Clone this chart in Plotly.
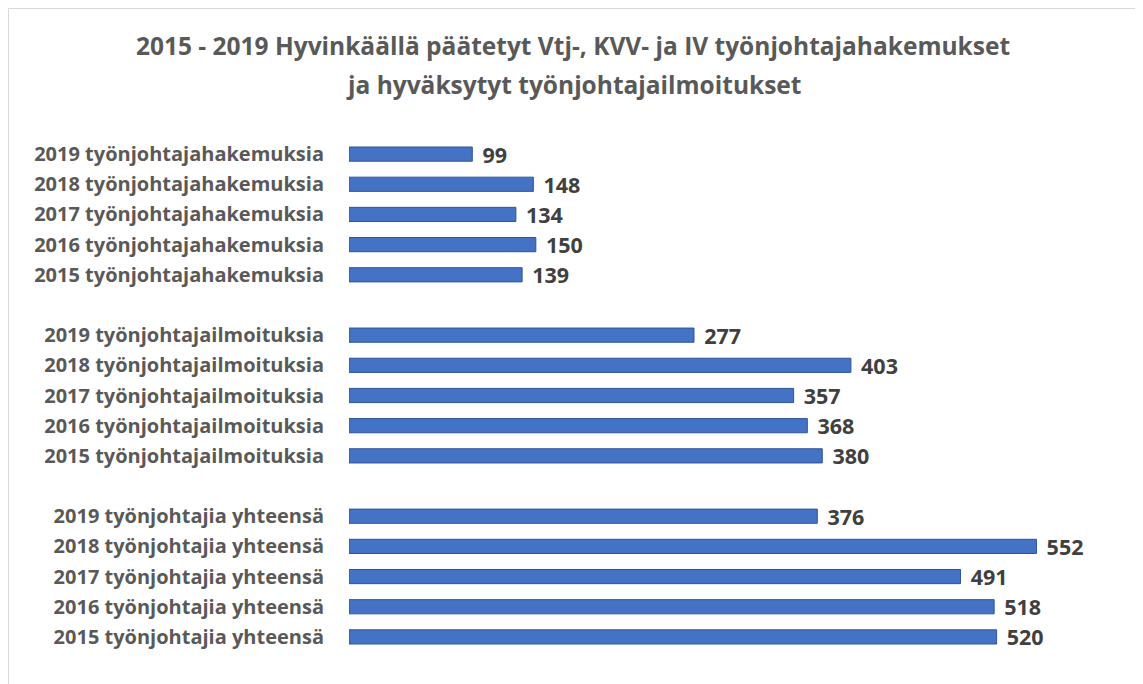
import plotly.graph_objects as go

# data, top to bottom as in the chart
hakemukset_labels = ["2019 työnjohtajahakemuksia", "2018 työnjohtajahakemuksia",
                     "2017 työnjohtajahakemuksia", "2016 työnjohtajahakemuksia",
                     "2015 työnjohtajahakemuksia"]
hakemukset_values = [99, 148, 134, 150, 139]

ilmoitukset_labels = ["2019 työnjohtajailmoituksia", "2018 työnjohtajailmoituksia",
                      "2017 työnjohtajailmoituksia", "2016 työnjohtajailmoituksia",
                      "2015 työnjohtajailmoituksia"]
ilmoitukset_values = [277, 403, 357, 368, 380]

yhteensa_labels = ["2019 työnjohtajia yhteensä", "2018 työnjohtajia yhteensä",
                   "2017 työnjohtajia yhteensä", "2016 työnjohtajia yhteensä",
                   "2015 työnjohtajia yhteensä"]
yhteensa_values = [376, 552, 491, 518, 520]

# empty rows between the groups
categories = hakemukset_labels + [" "] + ilmoitukset_labels + ["  "] + yhteensa_labels
values = hakemukset_values + [None] + ilmoitukset_values + [None] + yhteensa_values

title_line1 = "2015 - 2019 Hyvinkäällä päätetyt Vtj-, KVV- ja IV työnjohtajahakemukset"
title_line2 = "ja hyväksytyt työnjohtajailmoitukset"

fig = go.Figure()
fig.add_trace(go.Bar(
    y=categories,
    x=values,
    orientation="h",
    marker=dict(color="#4472C4", line=dict(color="#2F5597", width=1)),
    text=["\u2009\u2009" + str(v) if v is not None else "" for v in values],
    textposition="outside",
    constraintext="none",
    textfont=dict(family="Open Sans", size=21.5, color="#404040", weight="bold"),
    cliponaxis=False,
))

# the page adds an 8px body margin, so the figure is a bit smaller
W, H = 1135, 676
L, R, T, B = 341, 43, 131, 32
pw, ph = W - L - R, H - T - B

fig.update_layout(
    width=W, height=H,
    margin=dict(l=L, r=R, t=T, b=B, autoexpand=False),
    paper_bgcolor="white",
    plot_bgcolor="white",
    bargap=0.53,
    showlegend=False,
    title=dict(
        text="<b>" + title_line1 + "</b>",
        x=565 / W, xref="container", xanchor="center",
        y=1 - 38 / H, yref="container", yanchor="middle",
        font=dict(family="Open Sans", size=24.5, color="#595959"),
    ),
    annotations=[dict(
        text="<b>" + title_line2 + "</b>",
        xref="paper", yref="paper",
        x=(565 - L) / pw, y=(H - B - 76) / ph,
        xanchor="center", yanchor="middle",
        showarrow=False,
        font=dict(family="Open Sans", size=24.5, color="#595959"),
    )],
    xaxis=dict(range=[0, 603], visible=False),
    yaxis=dict(
        type="category",
        categoryorder="array",
        categoryarray=categories,
        autorange="reversed",
        automargin=False,
        showgrid=False,
        zeroline=False,
        showline=False,
        ticks="",
        ticklabelstandoff=24,
        tickfont=dict(family="Open Sans", size=20, color="#595959", weight="bold"),
    ),
    shapes=[dict(
        type="rect", xref="paper", yref="paper",
        x0=(0.5 - L) / pw, x1=(W - 1.5 - L) / pw,
        y0=-0.2, y1=(H - B - 0.5) / ph,
        line=dict(color="#D9D9D9", width=1),
        layer="above",
    )],
)

fig.write_html("out.html")
